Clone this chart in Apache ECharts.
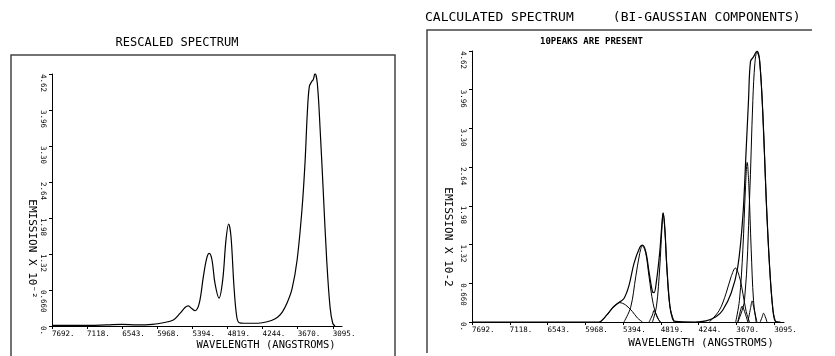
<!DOCTYPE html>
<html>
<head>
<meta charset="utf-8">
<script src="https://cdn.jsdelivr.net/npm/echarts@6/dist/echarts.min.js"></script>
<style>
  html, body { margin: 0; padding: 0; background: #fff; }
  #chart { width: 835px; height: 356px; }
</style>
</head>
<body>
<div id="chart"></div>
<script>
// wavelength ticks (angstroms), shared by both panels
var tickValues = [7692, 7117.4, 6542.8, 5968.2, 5393.6, 4819, 4244.4, 3669.8, 3095.2]
var tickLabels = ['7692.', '7118.', '6543.', '5968.', '5394.', '4819.', '4244.', '3670.', '3095.']
var yLabels = ['0.', '0.660', '1.32', '1.98', '2.64', '3.30', '3.96', '4.62']

// left panel: rescaled spectrum
var rescaled = [
    [7692, 0.01], [7200, 0.01], [6800, 0.02], [6550, 0.03], [6300, 0.02], [6050, 0.03],
    [5870, 0.06], [5706, 0.11], [5597, 0.23], [5515, 0.34], [5461, 0.37], [5405, 0.32],
    [5351, 0.28], [5281, 0.42], [5215, 0.9], [5160, 1.24], [5117, 1.33], [5073, 1.21],
    [5024, 0.78], [4958, 0.51], [4898, 0.84], [4844, 1.58], [4800, 1.87], [4762, 1.64],
    [4713, 0.72], [4668, 0.17], [4626, 0.06], [4550, 0.05], [4400, 0.05], [4250, 0.06],
    [4100, 0.1], [4000, 0.16], [3920, 0.26], [3845, 0.42], [3763, 0.68], [3681, 1.2],
    [3599, 2.15], [3550, 3.0], [3513, 3.9], [3480, 4.39], [3441, 4.48], [3415, 4.52],
    [3387, 4.63], [3349, 4.45], [3305, 3.65], [3251, 2.45], [3195, 1.2], [3141, 0.35],
    [3097, 0.05], [3060, 0.0]
]

// right panel: calculated spectrum and its 10 bi-gaussian components
var calcTotal = [
    [7692, 0.0], [6200, 0.0], [5800, 0.0], [5736, 0.01], [5640, 0.12], [5538, 0.26],
    [5446, 0.34], [5380, 0.40], [5304, 0.62], [5227, 1.0], [5140, 1.27], [5099, 1.31],
    [5048, 1.2], [4998, 0.85], [4947, 0.52], [4922, 0.50], [4885, 0.7], [4835, 1.2],
    [4804, 1.65], [4784, 1.86], [4758, 1.6], [4728, 0.95], [4682, 0.28], [4640, 0.05],
    [4600, 0.01], [4300, 0.0], [4132, 0.02], [3980, 0.09], [3878, 0.2], [3750, 0.49],
    [3648, 0.94], [3571, 1.8], [3521, 2.93], [3485, 3.78], [3455, 4.44], [3409, 4.52],
    [3357, 4.62], [3317, 4.47], [3265, 3.5], [3215, 2.08], [3164, 0.94], [3113, 0.2],
    [3073, 0.01], [3000, 0.0]
]
var peak1 = [[5736, 0.0], [5640, 0.12], [5538, 0.26], [5446, 0.33], [5355, 0.29], [5253, 0.18], [5176, 0.07], [5099, 0.0]]
var peak2 = [[5380, 0.0], [5278, 0.25], [5201, 0.77], [5140, 1.17], [5099, 1.30], [5048, 1.17], [4998, 0.77], [4937, 0.32], [4870, 0.07], [4819, 0.0]]
var peak3 = [[4998, 0.0], [4947, 0.12], [4922, 0.2], [4886, 0.12], [4835, 0.0]]
var peak4 = [[4946, 0.0], [4885, 0.27], [4835, 0.94], [4804, 1.57], [4784, 1.85], [4758, 1.57], [4728, 0.94], [4682, 0.27], [4616, 0.0]]
var peak5 = [[4081, 0.0], [3929, 0.2], [3826, 0.49], [3750, 0.77], [3684, 0.92], [3623, 0.77], [3571, 0.49], [3521, 0.18], [3470, 0.0]]
var peak6 = [[3648, 0.0], [3610, 0.18], [3582, 0.27], [3546, 0.18], [3495, 0.0]]
var peak7 = [[3680, 0.0], [3623, 0.37], [3571, 1.23], [3531, 2.3], [3505, 2.72], [3479, 2.3], [3444, 1.23], [3409, 0.37], [3368, 0.0]]
var peak8 = [[3495, 0.0], [3455, 0.23], [3429, 0.36], [3403, 0.23], [3357, 0.0]]
var peak9 = [[3648, 0.0], [3546, 0.37], [3470, 2.08], [3419, 3.78], [3388, 4.41], [3357, 4.6], [3317, 4.47], [3265, 3.5], [3215, 2.08], [3164, 0.94], [3113, 0.2], [3073, 0.0]]
var peak10 = [[3307, 0.0], [3276, 0.09], [3256, 0.15], [3230, 0.09], [3204, 0.0]]

var peaks = [peak1, peak2, peak3, peak4, peak5, peak6, peak7, peak8, peak9, peak10]

var mono = 'DejaVu Sans Mono'

function xLabel (v) {
    for (var i = 0; i < tickValues.length; i++) {
        if (Math.abs(tickValues[i] - v) < 1) return tickLabels[i]
    }
    return ''
}

function makeX (idx) {
    return {
        type: 'value', gridIndex: idx, inverse: true, min: 2945, max: 7692,
        axisLine: { lineStyle: { color: '#000', width: 1 } },
        axisTick: { customValues: tickValues, length: 3, lineStyle: { color: '#000' } },
        axisLabel: {
            customValues: tickValues, formatter: xLabel, align: 'left', margin: 4,
            fontFamily: mono, fontSize: 7.5, color: '#000'
        },
        splitLine: { show: false }
    }
}

function makeY (idx) {
    return {
        type: 'value', gridIndex: idx, min: 0, max: 4.62, interval: 0.66,
        axisLine: { show: true, lineStyle: { color: '#000', width: 1 } },
        axisTick: { show: true, length: 3, lineStyle: { color: '#000' } },
        axisLabel: {
            rotate: -90, align: 'left', verticalAlign: 'top', margin: 5,
            fontFamily: mono, fontSize: 7.5, color: '#000',
            formatter: function (v) { return yLabels[Math.round(v / 0.66)] }
        },
        splitLine: { show: false }
    }
}

function lineSeries (data, idx, w) {
    return {
        type: 'line', xAxisIndex: idx, yAxisIndex: idx, data: data,
        showSymbol: false, smooth: 0.35, silent: true,
        lineStyle: { color: '#000', width: w }
    }
}

var series = [lineSeries(rescaled, 0, 1.2), lineSeries(calcTotal, 1, 1.2)]
peaks.forEach(function (p) { series.push(lineSeries(p, 1, 1)) })

function txt (x, y, text, size, extra) {
    return {
        type: 'text', x: x, y: y,
        style: Object.assign({ text: text, fontFamily: mono, fontSize: size, fill: '#000' }, extra || {})
    }
}

var option = {
    animation: false,
    backgroundColor: '#fff',
    grid: [
        { left: 52, top: 74, width: 290, height: 252 },
        { left: 472, top: 51, width: 312, height: 271 }
    ],
    xAxis: [makeX(0), makeX(1)],
    yAxis: [makeY(0), makeY(1)],
    series: series,
    graphic: [
        { type: 'polyline', shape: { points: [[11, 356], [11, 55], [395, 55], [395, 356]] }, style: { stroke: '#444', lineWidth: 1.5, fill: null } },
        { type: 'polyline', shape: { points: [[427, 353], [427, 30], [812, 30]] }, style: { stroke: '#444', lineWidth: 1.5, fill: null } },
        txt(177, 43, 'RESCALED SPECTRUM', 12, { align: 'center', verticalAlign: 'middle' }),
        txt(425, 18, 'CALCULATED SPECTRUM     (BI-GAUSSIAN COMPONENTS)', 13, { verticalAlign: 'middle' }),
        txt(540, 42, '10PEAKS ARE PRESENT', 9, { verticalAlign: 'middle', fontWeight: 'bold' }),
        txt(266, 345, 'WAVELENGTH (ANGSTROMS)', 10.5, { align: 'center', verticalAlign: 'middle' }),
        txt(701, 343, 'WAVELENGTH (ANGSTROMS)', 11, { align: 'center', verticalAlign: 'middle' }),
        Object.assign(txt(32, 249, 'EMISSION X 10\u207B\u00B2', 11, { align: 'center', verticalAlign: 'middle' }), { rotation: -Math.PI / 2 }),
        Object.assign(txt(448, 237, 'EMISSION X 10-2', 11, { align: 'center', verticalAlign: 'middle' }), { rotation: -Math.PI / 2 })
    ]
}

var myChart = echarts.init(document.getElementById('chart'))
myChart.setOption(option)
</script>
</body>
</html>
